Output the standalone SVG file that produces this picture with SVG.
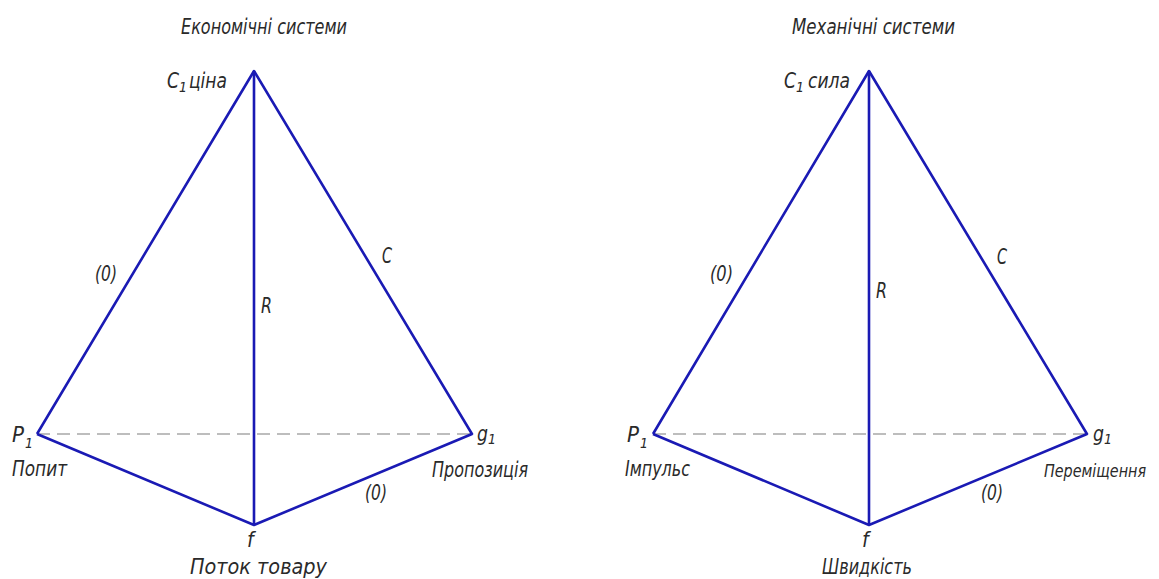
<svg xmlns="http://www.w3.org/2000/svg" width="1159" height="579" viewBox="0 0 1159 579">
<style>
text{font-family:"DejaVu Sans Condensed","Liberation Sans Narrow","Liberation Sans",sans-serif;font-style:italic;font-size:21px;fill:#2a2a2a;font-weight:300}
.sub{font-size:14px}
.edge{stroke:#1a1ab4;stroke-width:2.6;fill:none;stroke-linejoin:round}
.dash{stroke:#a8a8a8;stroke-width:1.6;stroke-dasharray:13 7;fill:none}
</style>
<rect width="1159" height="579" fill="#fff"/>
<g id="connectors">
<line class="dash" x1="37" y1="434" x2="472" y2="434"/>
<polyline class="edge" points="37,434 254,71 472,434 254,525 37,434"/>
<line class="edge" x1="254" y1="71" x2="254" y2="525"/>
<line class="dash" x1="653" y1="434" x2="1087" y2="434"/>
<polyline class="edge" points="653,434 869,71 1087,434 869,525 653,434"/>
<line class="edge" x1="869" y1="71" x2="869" y2="525"/>
</g>
<g id="left-title"><text x="181" y="34" textLength="166" lengthAdjust="spacingAndGlyphs">Економічні системи</text></g>
<g id="left-apex"><text x="167" y="88" textLength="12" lengthAdjust="spacingAndGlyphs">C</text><text class="sub" x="179" y="92">1</text><text x="189" y="88" textLength="38" lengthAdjust="spacingAndGlyphs">ціна</text></g>
<g id="left-edge-labels">
<text x="95" y="281" textLength="22" lengthAdjust="spacingAndGlyphs">(0)</text>
<text x="261" y="313" textLength="11" lengthAdjust="spacingAndGlyphs">R</text>
<text x="382" y="263" textLength="10" lengthAdjust="spacingAndGlyphs">C</text>
<text x="365" y="500" textLength="22" lengthAdjust="spacingAndGlyphs">(0)</text>
</g>
<g id="left-P1"><text x="12" y="442" textLength="12" lengthAdjust="spacingAndGlyphs">P</text><text class="sub" x="25" y="448">1</text><text x="12" y="476" textLength="55" lengthAdjust="spacingAndGlyphs">Попит</text></g>
<g id="left-g1"><text x="477" y="441" textLength="11" lengthAdjust="spacingAndGlyphs">g</text><text class="sub" x="488" y="444">1</text><text x="432" y="477" textLength="96" lengthAdjust="spacingAndGlyphs">Пропозиція</text></g>
<g id="left-f"><text x="247" y="547">f</text><text x="190" y="574" textLength="137" lengthAdjust="spacingAndGlyphs">Поток товару</text></g>

<g id="right-title"><text x="792" y="34" textLength="163" lengthAdjust="spacingAndGlyphs">Механічні системи</text></g>
<g id="right-apex"><text x="784" y="88" textLength="12" lengthAdjust="spacingAndGlyphs">C</text><text class="sub" x="796" y="92">1</text><text x="808" y="88" textLength="42" lengthAdjust="spacingAndGlyphs">сила</text></g>
<g id="right-edge-labels">
<text x="710" y="281" textLength="23" lengthAdjust="spacingAndGlyphs">(0)</text>
<text x="876" y="298" textLength="11" lengthAdjust="spacingAndGlyphs">R</text>
<text x="997" y="264" textLength="10" lengthAdjust="spacingAndGlyphs">C</text>
<text x="981" y="500" textLength="22" lengthAdjust="spacingAndGlyphs">(0)</text>
</g>
<g id="right-P1"><text x="627" y="442" textLength="12" lengthAdjust="spacingAndGlyphs">P</text><text class="sub" x="640" y="448">1</text><text x="625" y="476" textLength="65" lengthAdjust="spacingAndGlyphs">Імпульс</text></g>
<g id="right-g1"><text x="1093" y="441" textLength="11" lengthAdjust="spacingAndGlyphs">g</text><text class="sub" x="1104" y="444">1</text><text x="1044" y="477" style="font-size:18px" textLength="102" lengthAdjust="spacingAndGlyphs">Переміщення</text></g>
<g id="right-f"><text x="862" y="547">f</text><text x="822" y="574" textLength="90" lengthAdjust="spacingAndGlyphs">Швидкість</text></g>
</svg>
